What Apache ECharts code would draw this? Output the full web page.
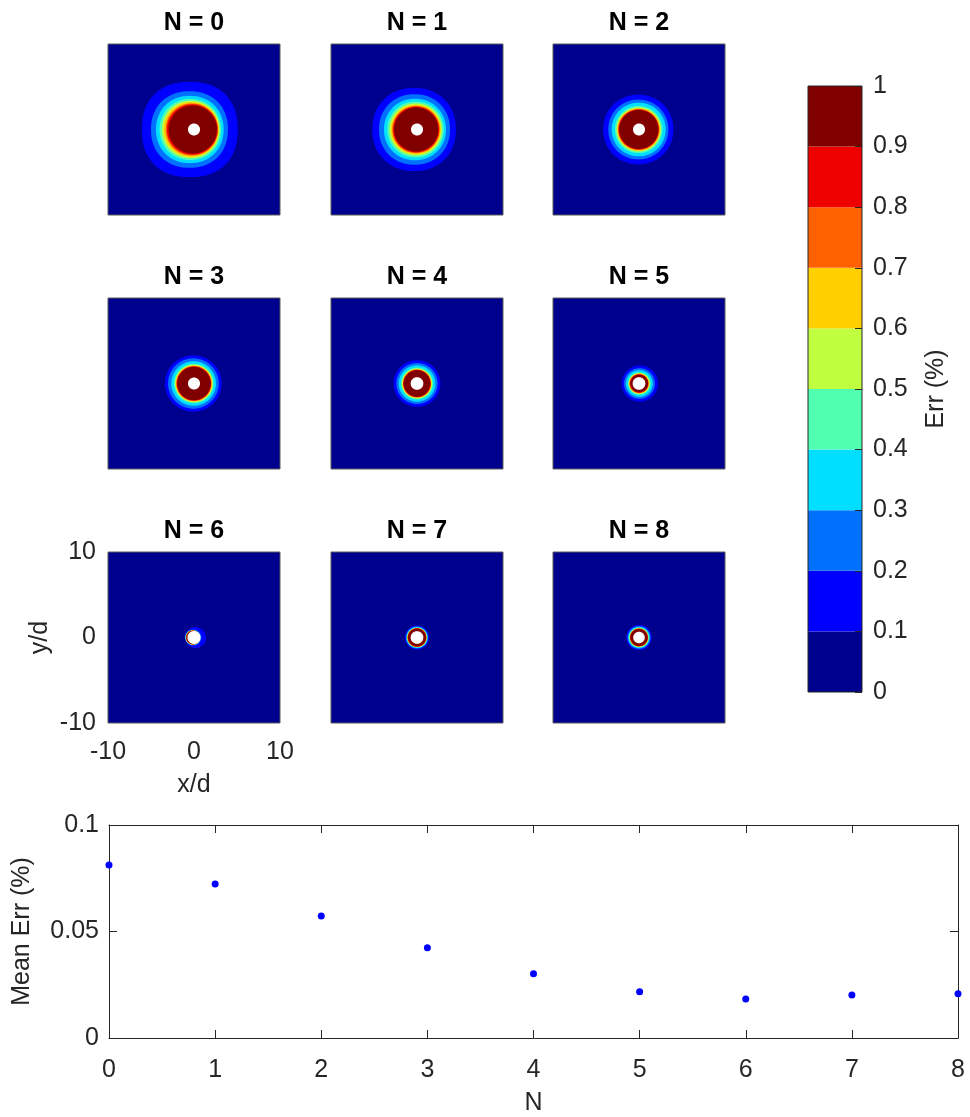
<!DOCTYPE html>
<html>
<head>
<meta charset="utf-8">
<script src="https://cdn.jsdelivr.net/npm/echarts@6.0.0/dist/echarts.min.js"></script>
<style>
  html, body { margin: 0; padding: 0; background: #fff; }
  #chart { width: 970px; height: 1117px; }
</style>
</head>
<body>
<div id="chart"></div>
<script>
// ---- data ----
const panelN = [0, 1, 2, 3, 4, 5, 6, 7, 8];
const errLevels = [0, 0.1, 0.2, 0.3, 0.4, 0.5, 0.6, 0.7, 0.8, 0.9, 1];
const levelColors = ['#00008f', '#0000ff', '#0070ff', '#00dfff', '#50ffaf',
                     '#bfff40', '#ffcf00', '#ff6000', '#ef0000', '#800000'];
// contour radii (x/d) on the upstream (left) and downstream (right) side, levels 0.1 ... 0.9
const leftRadii = [
  [6.05, 5.00, 4.42, 4.00, 3.72, 3.53, 3.30, 3.14, 2.95],
  [5.19, 4.42, 3.84, 3.45, 3.20, 3.02, 2.88, 2.77, 2.67],
  [4.16, 3.57, 3.18, 2.80, 2.62, 2.52, 2.44, 2.37, 2.30],
  [3.37, 3.02, 2.64, 2.33, 2.20, 2.12, 2.06, 2.00, 1.95],
  [2.72, 2.40, 2.13, 1.86, 1.75, 1.68, 1.63, 1.59, 1.55],
  [2.02, 1.74, 1.51, 1.28, 1.20, 1.15, 1.10, 1.06, 1.00],
  [1.05, 1.02, 1.00, 0.98, 0.96, 0.94, 0.92, 0.90, 0.88],
  [1.40, 1.30, 1.22, 1.16, 1.13, 1.11, 1.09, 1.07, 1.04],
  [1.47, 1.34, 1.24, 1.15, 1.10, 1.07, 1.04, 1.02, 1.00]
];
const rightRadii = [
  [5.08, 3.95, 3.45, 3.14, 2.98, 2.88, 2.80, 2.74, 2.67],
  [4.53, 3.84, 3.37, 3.10, 2.90, 2.77, 2.65, 2.56, 2.48],
  [4.00, 3.42, 3.10, 2.72, 2.55, 2.45, 2.37, 2.30, 2.25],
  [3.22, 2.87, 2.56, 2.30, 2.18, 2.10, 2.04, 1.98, 1.94],
  [2.72, 2.40, 2.13, 1.86, 1.75, 1.68, 1.63, 1.59, 1.55],
  [2.20, 1.85, 1.60, 1.35, 1.25, 1.18, 1.12, 1.08, 1.05],
  [1.40, 0.85, 0.72, 0.70, 0.70, 0.70, 0.70, 0.70, 0.70],
  [1.40, 1.30, 1.22, 1.16, 1.13, 1.11, 1.09, 1.07, 1.04],
  [1.47, 1.34, 1.24, 1.15, 1.10, 1.07, 1.04, 1.02, 1.00]
];
const holeRadii = [0.70, 0.70, 0.70, 0.70, 0.74, 0.74, 0.76, 0.74, 0.67];
const squareness = [2.3, 2.15, 2.05, 2.0, 2.0, 2.0, 2.0, 2.0, 2.0];
const fieldExtent = [-10, 10];
const fieldInterval = 10;
const meanErr = [0.0812, 0.0723, 0.0573, 0.0424, 0.0302, 0.0217, 0.0183, 0.0202, 0.0208];
const errTickInterval = 0.05;
const errMax = 0.1;

// ---- layout / style ----
const FONT = '"Liberation Sans", Arial, Helvetica, sans-serif';
const TXT = '#262626';
const colLeft = [108, 331, 553];
const rowTop = [44, 298, 552];
const panelW = 172, panelH = 171;
const titleCapCenter = [23, 277, 531];

const chart = echarts.init(document.getElementById('chart'), null, { renderer: 'canvas' });

const grids = [], xAxes = [], yAxes = [], series = [], titles = [];

function renderContour(params, api) {
  const lvl = api.value(0);
  if (lvl === 0) {
    const a = api.coord([fieldExtent[0], fieldExtent[1]]);
    const b = api.coord([fieldExtent[1], fieldExtent[0]]);
    return { type: 'rect', shape: { x: a[0], y: a[1], width: b[0] - a[0], height: b[1] - a[1] },
             style: { fill: levelColors[0] } };
  }
  const rL = api.value(1), rR = api.value(2), p = api.value(3);
  const r = (rL + rR) / 2, c = (rR - rL) / 2;
  const ex = 2 / p;
  const pts = [];
  const n = 144;
  for (let i = 0; i < n; i++) {
    const t = i / n * 2 * Math.PI;
    const ct = Math.cos(t), st = Math.sin(t);
    const x = c + r * Math.sign(ct) * Math.pow(Math.abs(ct), ex);
    const y = r * Math.sign(st) * Math.pow(Math.abs(st), ex);
    pts.push(api.coord([x, y]));
  }
  const fill = lvl < 0 ? '#ffffff' : levelColors[lvl];
  return { type: 'polygon', shape: { points: pts }, style: { fill: fill } };
}

panelN.forEach((n, i) => {
  const col = i % 3, row = Math.floor(i / 3);
  const isLabelled = (n === 6);
  grids.push({
    left: colLeft[col], top: rowTop[row], width: panelW, height: panelH,
    show: true, borderColor: '#5a5a5a', borderWidth: 1, backgroundColor: 'transparent', z: 5,
    containLabel: false, outerBoundsMode: 'none'
  });
  xAxes.push({
    gridIndex: i, type: 'value', min: fieldExtent[0], max: fieldExtent[1], interval: fieldInterval,
    axisLine: { show: false, onZero: false }, axisTick: { show: false }, splitLine: { show: false },
    axisLabel: { show: isLabelled, color: TXT, fontSize: 25, fontFamily: FONT, margin: 17,
                 showMinLabel: true, showMaxLabel: true },
    name: isLabelled ? 'x/d' : '', nameLocation: 'middle', nameGap: 50,
    nameTextStyle: { color: TXT, fontSize: 25, fontFamily: FONT }
  });
  yAxes.push({
    gridIndex: i, type: 'value', min: fieldExtent[0], max: fieldExtent[1], interval: fieldInterval,
    axisLine: { show: false, onZero: false }, axisTick: { show: false }, splitLine: { show: false },
    axisLabel: { show: isLabelled, color: TXT, fontSize: 25, fontFamily: FONT, margin: 12,
                 showMinLabel: true, showMaxLabel: true },
    name: isLabelled ? 'y/d' : '', nameLocation: 'middle', nameGap: 55,
    nameTextStyle: { color: TXT, fontSize: 25, fontFamily: FONT }
  });
  // field background, then contour levels from low to high, then the cylinder
  const L = leftRadii[i], R = rightRadii[i];
  const rOut = (L[0] + R[0]) / 2, rIn = (L[8] + R[8]) / 2;
  const items = [[0, 0, 0, 2]];
  for (let k = 0; k < 9; k++) {
    const rk = (L[k] + R[k]) / 2;
    const frac = rOut > rIn ? (rk - rIn) / (rOut - rIn) : 0;
    items.push([k + 1, L[k], R[k], 2 + (squareness[i] - 2) * frac]);
  }
  items.push([-1, holeRadii[i], holeRadii[i], 2]);
  series.push({
    type: 'custom', xAxisIndex: i, yAxisIndex: i, renderItem: renderContour,
    data: items, clip: true, silent: true, animation: false,
    dimensions: ['level', 'rLeft', 'rRight', 'shape'], encode: { x: -1, y: -1 }
  });
  titles.push({
    text: 'N = ' + n, left: colLeft[col] + panelW / 2, top: titleCapCenter[row] - 13,
    textAlign: 'center', padding: 0,
    textStyle: { fontSize: 25, fontWeight: 'bold', color: '#000', fontFamily: FONT, lineHeight: 26 }
  });
});

// ---- colorbar ----
const cbIndex = 9;
grids.push({ left: 808, top: 86, width: 54, height: 606, show: true, borderColor: '#262626',
             borderWidth: 1, backgroundColor: 'transparent', z: 5,
             containLabel: false, outerBoundsMode: 'none' });
xAxes.push({ gridIndex: cbIndex, type: 'value', min: 0, max: 1, show: false,
             axisLine: { onZero: false } });
yAxes.push({
  gridIndex: cbIndex, type: 'value', min: errLevels[0], max: errLevels[errLevels.length - 1], interval: 0.1,
  position: 'right', z: 6,
  axisLine: { show: false, onZero: false }, splitLine: { show: false },
  axisTick: { show: true, inside: true, length: 7, lineStyle: { color: TXT, width: 1 } },
  axisLabel: { color: TXT, fontSize: 25, fontFamily: FONT, margin: 11, showMinLabel: true, showMaxLabel: true },
  name: 'Err (%)', nameLocation: 'middle', nameGap: 62, nameRotate: 90,
  nameTextStyle: { color: TXT, fontSize: 25, fontFamily: FONT }
});
const cbItems = levelColors.map((c, k) => [errLevels[k], errLevels[k + 1], k]);
series.push({
  type: 'custom', xAxisIndex: cbIndex, yAxisIndex: cbIndex, silent: true, animation: false,
  data: cbItems, encode: { x: -1, y: [0, 1] },
  renderItem: (params, api) => {
    const a = api.coord([0, api.value(1)]);
    const b = api.coord([1, api.value(0)]);
    return { type: 'rect', shape: { x: a[0], y: a[1], width: b[0] - a[0], height: b[1] - a[1] },
             style: { fill: levelColors[api.value(2)] } };
  }
});

// ---- mean error vs N ----
const mIndex = 10;
grids.push({ left: 109, top: 825, width: 849, height: 213, show: false,
             containLabel: false, outerBoundsMode: 'none' });
const boxLine = () => ({ show: true, onZero: false, lineStyle: { color: TXT, width: 1 } });
const inTick = () => ({ show: true, inside: true, length: 8, lineStyle: { color: TXT, width: 1 } });
xAxes.push({
  gridIndex: mIndex, type: 'value', min: 0, max: panelN.length - 1, interval: 1, position: 'bottom',
  axisLine: boxLine(), axisTick: inTick(), splitLine: { show: false },
  axisLabel: { color: TXT, fontSize: 25, fontFamily: FONT, margin: 20, showMinLabel: true, showMaxLabel: true },
  name: 'N', nameLocation: 'middle', nameGap: 53,
  nameTextStyle: { color: TXT, fontSize: 25, fontFamily: FONT }
});
xAxes.push({
  gridIndex: mIndex, type: 'value', min: 0, max: panelN.length - 1, interval: 1, position: 'top',
  axisLine: boxLine(), axisTick: inTick(), splitLine: { show: false }, axisLabel: { show: false }
});
yAxes.push({
  gridIndex: mIndex, type: 'value', min: 0, max: errMax, interval: errTickInterval, position: 'left',
  axisLine: boxLine(), axisTick: inTick(), splitLine: { show: false },
  axisLabel: { color: TXT, fontSize: 25, fontFamily: FONT, margin: 10, showMinLabel: true, showMaxLabel: true },
  name: 'Mean Err (%)', nameLocation: 'middle', nameGap: 74,
  nameTextStyle: { color: TXT, fontSize: 25, fontFamily: FONT }
});
yAxes.push({
  gridIndex: mIndex, type: 'value', min: 0, max: errMax, interval: errTickInterval, position: 'right',
  axisLine: boxLine(), axisTick: inTick(), splitLine: { show: false }, axisLabel: { show: false }
});
series.push({
  type: 'scatter', xAxisIndex: 10, yAxisIndex: 10, clip: false, animation: false,
  symbol: 'circle', symbolSize: 7, itemStyle: { color: '#0000ff', opacity: 1 },
  data: panelN.map((n, k) => [n, meanErr[k]])
});

chart.setOption({
  animation: false,
  backgroundColor: '#ffffff',
  textStyle: { fontFamily: FONT },
  title: titles,
  grid: grids,
  xAxis: xAxes,
  yAxis: yAxes,
  series: series
});
</script>
</body>
</html>
